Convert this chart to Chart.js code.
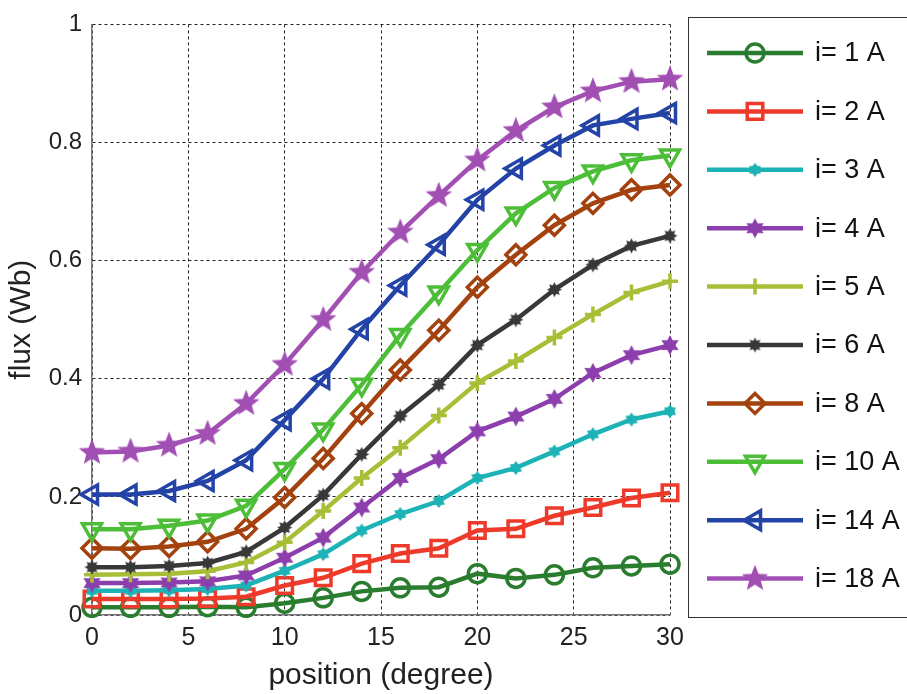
<!DOCTYPE html>
<html lang="en">
<head>
<meta charset="UTF-8">
<title>flux vs position</title>
<script src="https://cdn.jsdelivr.net/npm/chart.js"></script>
<style>
html,body{margin:0;padding:0;background:#fff;}
#wrap{width:907px;height:694px;}
</style>
</head>
<body>
<div id="wrap"><canvas id="fluxChart" width="907" height="694"></canvas></div>
<script>

// position (degree)
const positions = [0,2,4,6,8,10,12,14,16,18,20,22,24,26,28,30];

// flux (Wb) for each current
const i1  = [0.013,0.013,0.013,0.014,0.013,0.02,0.029,0.04,0.046,0.047,0.07,0.062,0.068,0.08,0.083,0.086];
const i2  = [0.027,0.027,0.027,0.028,0.031,0.05,0.063,0.087,0.104,0.113,0.143,0.146,0.168,0.182,0.198,0.207];
const i3  = [0.041,0.041,0.042,0.044,0.05,0.075,0.103,0.143,0.171,0.193,0.232,0.249,0.277,0.306,0.331,0.345];
const i4  = [0.054,0.054,0.055,0.057,0.067,0.097,0.131,0.182,0.232,0.264,0.311,0.336,0.366,0.41,0.44,0.457];
const i5  = [0.068,0.069,0.07,0.074,0.089,0.123,0.176,0.232,0.283,0.338,0.393,0.43,0.47,0.509,0.546,0.565];
const i6  = [0.081,0.081,0.083,0.088,0.107,0.148,0.203,0.272,0.337,0.39,0.457,0.5,0.551,0.593,0.625,0.642];
const i8  = [0.113,0.112,0.116,0.124,0.146,0.199,0.265,0.341,0.415,0.482,0.555,0.61,0.66,0.697,0.72,0.728];
const i10 = [0.145,0.145,0.151,0.16,0.185,0.247,0.314,0.39,0.474,0.546,0.618,0.68,0.723,0.751,0.77,0.778];
const i14 = [0.204,0.204,0.21,0.227,0.262,0.33,0.4,0.484,0.558,0.627,0.703,0.756,0.795,0.829,0.84,0.85];
const i18 = [0.275,0.277,0.287,0.307,0.358,0.424,0.5,0.58,0.648,0.71,0.77,0.82,0.86,0.887,0.903,0.907];

const seriesNames = ['i= 1 A','i= 2 A','i= 3 A','i= 4 A','i= 5 A','i= 6 A','i= 8 A','i= 10 A','i= 14 A','i= 18 A'];
const seriesData  = [i1,i2,i3,i4,i5,i6,i8,i10,i14,i18];

const yTicks = [0,0.2,0.4,0.6,0.8,1];
const xTicks = [0,5,10,15,20,25,30];

const FONT = 'Arial, "Liberation Sans", sans-serif';

// filled star markers (pentagram, hexagram ...)
function starMarker(points, rOut, rIn, color){
    const size = Math.ceil(rOut*2+2);
    const c = document.createElement('canvas');
    c.width = size; c.height = size;
    const g = c.getContext('2d');
    g.fillStyle = color;
    g.beginPath();
    for(let k=0;k<points*2;k++){
        const r = k%2 ? rIn : rOut;
        const a = -Math.PI/2 + k*Math.PI/points;
        g.lineTo(size/2 + r*Math.cos(a), size/2 + r*Math.sin(a));
    }
    g.closePath();
    g.fill();
    return c;
}

const clear = 'rgba(255,255,255,0)';
const styles = [
    {color:'#2a7d2e', pointStyle:'circle',   radius:9,  rot:0,   fill:clear, bw:3.5},
    {color:'#ee3a2a', pointStyle:'rect',     radius:11, rot:0,   fill:clear, bw:3.5},
    {color:'#1db3b6', pointStyle:starMarker(6,7,4.5,'#1db3b6'), radius:7, rot:0, fill:'#1db3b6', bw:0},
    {color:'#8d3ead', pointStyle:starMarker(6,10,5.5,'#8d3ead'), radius:10, rot:0, fill:'#8d3ead', bw:0},
    {color:'#a6bf36', pointStyle:'cross',    radius:8,  rot:0,   fill:clear, bw:3.5},
    {color:'#383838', pointStyle:starMarker(8,7.5,4.5,'#383838'), radius:7, rot:0, fill:'#383838', bw:0},
    {color:'#a3420f', pointStyle:'rectRot',  radius:10, rot:0,   fill:clear, bw:3.5},
    {color:'#4dbe38', pointStyle:'triangle', radius:11, rot:180, fill:clear, bw:3.5},
    {color:'#2343a6', pointStyle:'triangle', radius:11, rot:270, fill:clear, bw:3.5},
    {color:'#a24fb4', pointStyle:starMarker(5,14,6,'#a24fb4'), radius:14, rot:0, fill:'#a24fb4', bw:0}
];

const datasets = seriesNames.map((name, k) => ({
    label: name,
    data: positions.map((p, j) => ({x: p, y: seriesData[k][j]})),
    borderColor: styles[k].color,
    backgroundColor: styles[k].fill,
    borderWidth: 4.5,
    pointStyle: styles[k].pointStyle,
    pointRadius: styles[k].radius,
    pointRotation: styles[k].rot,
    pointBorderWidth: styles[k].bw,
    pointBorderColor: styles[k].color,
    pointBackgroundColor: styles[k].fill,
    tension: 0,
    clip: false,
    order: seriesNames.length - k
}));

// legend drawn as a matlab style box: line + marker + label
const boxLegend = {
    id: 'boxLegend',
    afterDraw(chart){
        const ctx = chart.ctx;
        ctx.save();
        ctx.strokeStyle = '#333';
        ctx.lineWidth = 1;
        ctx.strokeRect(688.5, 17.5, 240, 600);
        chart.data.datasets.forEach((ds, k) => {
            const y = 53 + k*58.4;
            ctx.strokeStyle = ds.borderColor;
            ctx.lineWidth = 4.5;
            ctx.beginPath();
            ctx.moveTo(707, y);
            ctx.lineTo(803, y);
            ctx.stroke();
            ctx.fillStyle = ds.pointBackgroundColor;
            ctx.strokeStyle = ds.pointBorderColor;
            ctx.lineWidth = ds.pointBorderWidth;
            Chart.helpers.drawPoint(ctx, {
                pointStyle: ds.pointStyle,
                rotation: ds.pointRotation,
                radius: ds.pointRadius,
                borderWidth: ds.pointBorderWidth
            }, 755, y);
            ctx.fillStyle = '#111';
            ctx.font = '27px ' + FONT;
            ctx.textAlign = 'left';
            ctx.textBaseline = 'middle';
            ctx.fillText(ds.label, 815, y + 1);
        });
        ctx.restore();
    }
};

const ctx = document.getElementById('fluxChart').getContext('2d');

new Chart(ctx, {
    type: 'line',
    data: {datasets: datasets},
    options: {
        responsive: false,
        animation: false,
        events: [],
        layout: {padding: {top: 20, right: 237, left: 0, bottom: 0}},
        plugins: {legend: {display: false}, tooltip: {enabled: false}},
        scales: {
            x: {
                type: 'linear',
                min: 0, max: 30,
                afterBuildTicks: s => { s.ticks = xTicks.map(v => ({value: v})); },
                afterFit: s => { s.height = 79; },
                ticks: {color: '#222', font: {family: FONT, size: 25}, padding: 8, maxRotation: 0},
                grid: {color: '#222', lineWidth: 1, drawTicks: false},
                border: {color: '#777', width: 1.5, dash: [3,3]},
                title: {display: true, text: 'position (degree)', color: '#222',
                        font: {family: FONT, size: 30}, padding: {top: 0, bottom: 0}}
            },
            y: {
                min: 0, max: 1,
                afterBuildTicks: s => { s.ticks = yTicks.map(v => ({value: v})); },
                afterFit: s => { s.width = 92; },
                ticks: {color: '#222', font: {family: FONT, size: 24}, padding: 10,
                        callback: v => String(Number(v.toFixed(1)))},
                grid: {color: '#222', lineWidth: 1, drawTicks: false},
                border: {color: '#777', width: 1.5, dash: [3,3]},
                title: {display: true, text: 'flux (Wb)', color: '#222',
                        font: {family: FONT, size: 30}, padding: {top: 4, bottom: 0}}
            }
        }
    },
    plugins: [boxLegend]
});

</script>
</body>
</html>
